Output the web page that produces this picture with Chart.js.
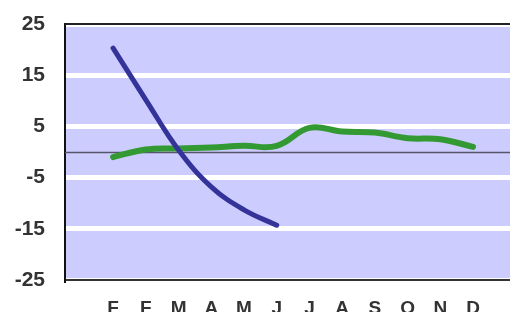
<!DOCTYPE html>
<html>
<head>
<meta charset="utf-8">
<script src="https://cdn.jsdelivr.net/npm/chart.js@4/dist/chart.umd.min.js"></script>
<style>
  html, body { margin: 0; padding: 0; background: #fff; overflow: hidden; }
  #wrap { width: 510px; height: 312px; overflow: hidden; }
</style>
</head>
<body>
<div id="wrap"><canvas id="chart" width="510" height="330"></canvas></div>
<script>
// month labels as printed on the reference (first one reads "F")
const months = ['F', 'F', 'M', 'A', 'M', 'J', 'J', 'A', 'S', 'O', 'N', 'D'];
const blueValues = [20.3, 10.2, 0.4, -6.8, -11.3, -14.3];
const greenValues = [-1.0, 0.5, 0.7, 0.9, 1.2, 1.2, 4.7, 4.0, 3.8, 2.7, 2.5, 1.0];
const yTicks = [-25, -15, -5, 5, 15, 25];

const toPoints = vals => vals.map((v, i) => ({ x: i, y: v }));

// plot background, zero line and top border
const frame = {
  id: 'frame',
  beforeDraw(chart) {
    const { ctx, chartArea: a } = chart;
    ctx.save();
    ctx.fillStyle = '#ccccff';
    ctx.fillRect(a.left, a.top, a.right - a.left, a.bottom - a.top);
    ctx.restore();
  },
  beforeDatasetsDraw(chart) {
    const { ctx, chartArea: a, scales } = chart;
    const y0 = Math.round(scales.y.getPixelForValue(0)) + 0.5;
    ctx.save();
    ctx.strokeStyle = '#55556a';
    ctx.lineWidth = 1.5;
    ctx.beginPath();
    ctx.moveTo(a.left, y0);
    ctx.lineTo(a.right, y0);
    ctx.stroke();
    ctx.restore();
  },
  afterDraw(chart) {
    const { ctx, chartArea: a } = chart;
    ctx.save();
    ctx.strokeStyle = '#222';
    ctx.lineWidth = 2;
    ctx.beginPath();
    ctx.moveTo(a.left, a.top);
    ctx.lineTo(a.right, a.top);
    ctx.stroke();
    ctx.restore();
  }
};

new Chart(document.getElementById('chart'), {
  type: 'line',
  data: {
    datasets: [
      {
        data: toPoints(blueValues),
        borderColor: '#333399',
        borderWidth: 5,
        borderCapStyle: 'round',
        pointRadius: 0,
        tension: 0.4
      },
      {
        data: toPoints(greenValues),
        borderColor: '#339933',
        borderWidth: 6,
        borderCapStyle: 'round',
        pointRadius: 0,
        tension: 0.4
      }
    ]
  },
  options: {
    responsive: false,
    animation: false,
    layout: { padding: { top: 0, right: 0, left: 0, bottom: 0 } },
    plugins: { legend: { display: false }, tooltip: { enabled: false } },
    scales: {
      x: {
        type: 'linear',
        min: -1.47,
        max: 12.13,
        afterFit(scale) { scale.height = 50; },
        afterBuildTicks(scale) {
          scale.ticks = months.map((m, i) => ({ value: i }));
        },
        grid: { display: false, drawTicks: false },
        border: { display: true, color: '#333', width: 2 },
        ticks: {
          autoSkip: false,
          maxRotation: 0,
          padding: 17,
          color: '#333',
          font: { family: 'Liberation Sans, Arial, sans-serif', size: 19, weight: 'bold' },
          callback: (v) => months[v]
        }
      },
      y: {
        min: -25,
        max: 25,
        afterFit(scale) {
          scale.width = 65;
          scale.paddingTop = 24;
        },
        afterBuildTicks(scale) {
          scale.ticks = yTicks.map(v => ({ value: v }));
        },
        grid: { color: '#ffffff', lineWidth: 5, drawTicks: false },
        border: { display: true, color: '#111', width: 2 },
        ticks: {
          padding: 20,
          color: '#333',
          font: { family: 'Liberation Sans, Arial, sans-serif', size: 21, weight: 'bold' }
        }
      }
    }
  },
  plugins: [frame]
});
</script>
</body>
</html>
